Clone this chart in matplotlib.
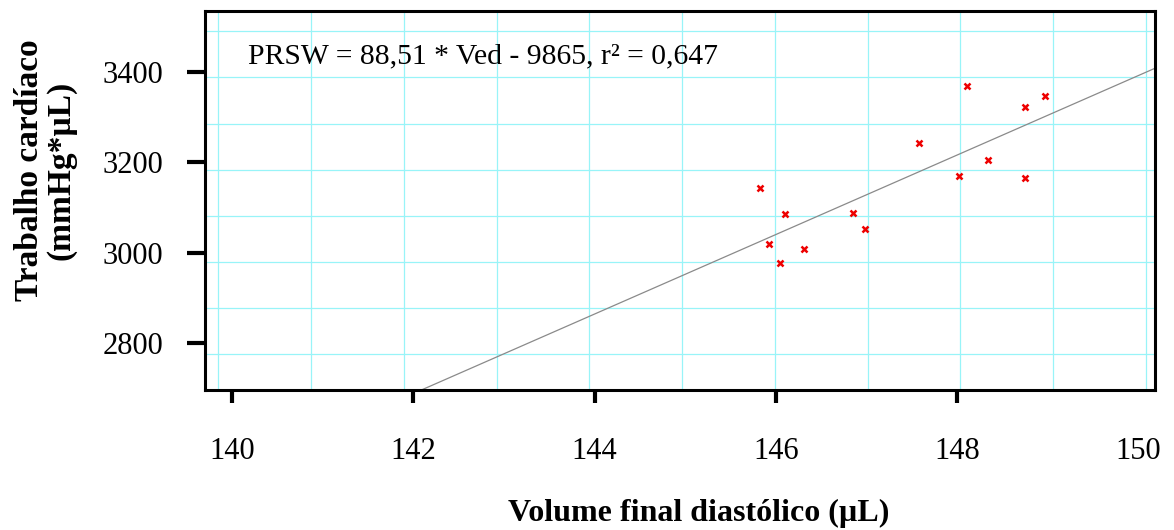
import numpy as np
import matplotlib
matplotlib.use("Agg")
import matplotlib.pyplot as plt

# ---- data ----
ved = [145.82, 146.10, 146.85, 146.98, 145.92, 146.31, 146.04,
       148.11, 148.97, 148.75, 147.58, 148.34, 148.02, 148.75]
prsw = [3143, 3085, 3088, 3052, 3020, 3009, 2977,
        3368, 3346, 3323, 3242, 3206, 3170, 3165]
x_ticks = [140, 142, 144, 146, 148, 150]
y_ticks = [2800, 3000, 3200, 3400]
annotation = "PRSW = 88,51 * Ved - 9865, r² = 0,647"
x_label = "Volume final diastólico (µL)"
y_label = "Trabalho cardíaco\n(mmHg*µL)"

plt.rcParams['font.family'] = ['Liberation Serif', 'DejaVu Serif']

fig = plt.figure(figsize=(11.74, 5.30), dpi=100)
ax = fig.add_axes([205/1174, 1-390/530, 950/1174, 379/530])

xmin, xmax = 139.705, 150.18
ymin, ymax = 2697, 3534
ax.set_xlim(xmin, xmax)
ax.set_ylim(ymin, ymax)

# graph-paper background grid (not aligned with ticks)
for gx in np.arange(139.852, xmax, 1.0227):
    ax.axvline(gx, color='#98f4f8', lw=0.9, zorder=0)
for gy in np.arange(2776.5, ymax, 101.8):
    ax.axhline(gy, color='#98f4f8', lw=0.9, zorder=0)

# regression line from the data
slope, intercept = np.polyfit(ved, prsw, 1)
xl = np.array([xmin, xmax])
ax.plot(xl, slope*xl + intercept, color='#8a8a8a', lw=0.9, zorder=2)

ax.plot(ved, prsw, linestyle='none', marker='x', color='#ee0000',
        markersize=3.8, markeredgewidth=1.8, zorder=3)

ax.text(0.045, 0.863, annotation, transform=ax.transAxes, fontsize=21.3,
        ha='left', va='baseline')

ax.set_xticks(x_ticks)
ax.set_xticklabels([str(v) for v in x_ticks], fontsize=22)
ax.set_yticks(y_ticks)
ax.set_yticklabels([str(v) for v in y_ticks], fontsize=22)
ax.tick_params(axis='x', direction='out', length=9.5, width=3, pad=24)
ax.tick_params(axis='y', direction='out', length=13, width=3, pad=17)
# the last x tick mark is not drawn in the reference
ax.xaxis.get_major_ticks()[-1].tick1line.set_visible(False)

for s in ax.spines.values():
    s.set_linewidth(2.2)

fig.text(699/1174, 1-513/530, x_label, fontsize=23, fontweight='bold',
         ha='center', va='center')
fig.text(45/1174, 1-170/530, y_label, fontsize=24, fontweight='bold',
         rotation=90, ha='center', va='center', multialignment='center',
         linespacing=1.0)

fig.savefig('out.png', dpi=100)
